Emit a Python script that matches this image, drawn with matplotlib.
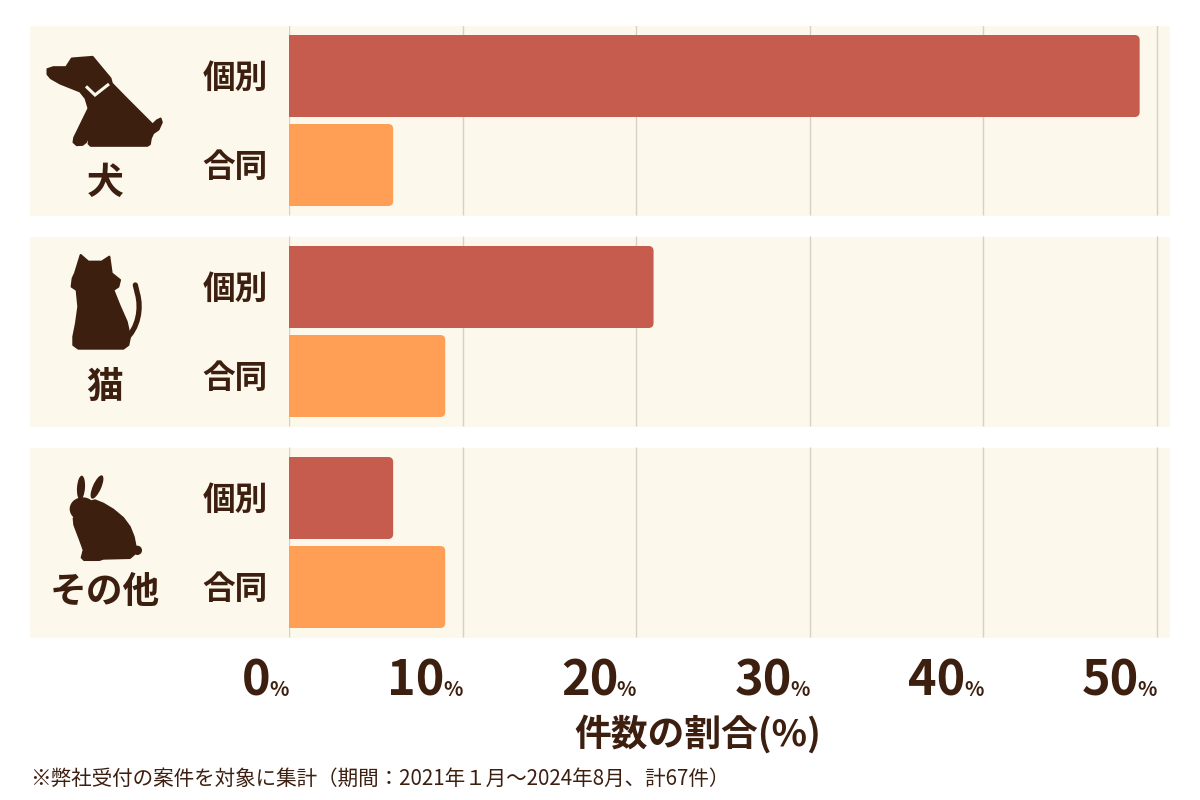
import matplotlib
matplotlib.use("Agg")
import matplotlib.pyplot as plt
from matplotlib.patches import Polygon, Ellipse, Rectangle, FancyBboxPatch, PathPatch
from matplotlib.path import Path
from matplotlib.transforms import blended_transform_factory, offset_copy

plt.rcParams['font.family'] = ['Noto Sans CJK JP', 'DejaVu Sans']

# ---------------- data ----------------
animals = ["犬", "猫", "その他"]
bar_types = ["個別", "合同"]
individual_pct = [49, 21, 6]
joint_pct = [6, 9, 9]
x_ticks = [0, 10, 20, 30, 40, 50]
x_label = "件数の割合(%)"
footnote = "※弊社受付の案件を対象に集計（期間：2021年１月～2024年8月、計67件）"

# ---------------- style ----------------
BROWN = "#3d1f10"
RED = "#c55c4d"
ORANGE = "#ff9f55"
PANEL = "#fdf8ec"
GRID = "#d6d0c5"

W, H = 1200, 800
fig = plt.figure(figsize=(12, 8), dpi=100)
fig.patch.set_facecolor("white")

# background axes in pixel coordinates
bg = fig.add_axes([0, 0, 1, 1], zorder=0)
bg.set_xlim(0, W)
bg.set_ylim(H, 0)
bg.axis("off")

# data axes
px_per_pct = 17.36
ax_left_px, ax_right_px = 289, 1170
ax_top_px, ax_bot_px = 26, 638
pitch_px = 211
ax = fig.add_axes([ax_left_px / W, 1 - ax_bot_px / H,
                   (ax_right_px - ax_left_px) / W, (ax_bot_px - ax_top_px) / H], zorder=2)
ax.patch.set_alpha(0)
ax.set_xlim(0, (ax_right_px - ax_left_px) / px_per_pct)
top_u = -(120.5 - ax_top_px) / pitch_px
bot_u = (ax_bot_px - 120.5) / pitch_px
ax.set_ylim(bot_u, top_u)
ax.axis("off")

n = len(animals)
panel_half = 95 / pitch_px
bar_h = 82 / pitch_px
off = 44.5 / pitch_px

# panels
for i in range(n):
    cy = 120.5 + pitch_px * i
    bg.add_patch(Rectangle((30, cy - 95), 1140, 190, facecolor=PANEL, edgecolor="none"))

# gridlines only within panels
for i in range(n):
    ax.vlines(x_ticks, i - panel_half, i + panel_half, colors=GRID, linewidth=1.0, zorder=1)

ypos_ind = [i - off for i in range(n)]
ypos_joint = [i + off for i in range(n)]
bars1 = ax.barh(ypos_ind, individual_pct, height=bar_h, color=RED)
bars2 = ax.barh(ypos_joint, joint_pct, height=bar_h, color=ORANGE)

# replace with rounded-corner bars
r_px = 5
aspect = (r_px / pitch_px) / (r_px / px_per_pct)
for bars in (bars1, bars2):
    for rect in bars:
        x, y, w, h = rect.get_x(), rect.get_y(), rect.get_width(), rect.get_height()
        rect.set_visible(False)
        p = FancyBboxPatch((x - 1, y), w + 1, h,
                           boxstyle=f"round,pad=0,rounding_size={r_px / px_per_pct}",
                           mutation_aspect=aspect, facecolor=rect.get_facecolor(),
                           edgecolor="none", zorder=3, clip_on=True)
        ax.add_patch(p)

# category labels
for i in range(n):
    for yy, lab in ((ypos_ind[i], bar_types[0]), (ypos_joint[i], bar_types[1])):
        ax.annotate(lab, xy=(0, yy), xycoords="data", xytext=(-21, -2),
                    textcoords="offset pixels", ha="right", va="center",
                    fontsize=23.5, fontweight="bold", color=BROWN, annotation_clip=False)

# x tick labels (number + small %)
trans = blended_transform_factory(ax.transData, fig.transFigure)
ybase = 1 - 696 / H
for t in x_ticks:
    ax.text(t, ybase, "%", transform=trans, ha="right", va="baseline",
            fontsize=14.5, fontweight="bold", color=BROWN, clip_on=False)
    ax.text(t, ybase, str(t), transform=offset_copy(trans, fig=fig, x=-18, y=0, units="dots"),
            ha="right", va="baseline", fontsize=35, fontweight="bold", color=BROWN, clip_on=False)

fig.text(698 / W, 1 - 734 / H, x_label, ha="center", va="center",
         fontsize=26.5, fontweight="bold", color=BROWN)
fig.text(30 / W, 1 - 779 / H, footnote, ha="left", va="center",
         fontsize=14.8, color=BROWN)

# animal labels
for lab, yy in zip(animals, (183, 387, 592)):
    bg.text(105, yy, lab, ha="center", va="center", fontsize=26.5, fontweight="bold", color=BROWN)

# ---------------- icons (decorative) ----------------
def conv(pts, ox, oy, s=3.0):
    return [(ox + px / s, oy + py / s) for px, py in pts]

# dog (sitting, facing left)
dog_z = [(22,72),(40,66),(78,66),(95,40),(158,35),(212,100),(216,115),(260,160),(338,238),
         (350,226),(362,220),(366,232),(356,254),(340,265),(333,280),(330,298),(322,303),
         (152,303),(145,296),(150,270),(164,244),(138,292),(128,300),(110,301),(100,292),
         (102,278),(145,190),(136,160),(120,140),(85,126),(60,116),(32,100),(22,88)]
bg.add_patch(Polygon(conv(dog_z, 40, 45), closed=True, facecolor=BROWN, edgecolor=BROWN,
                     linewidth=1.2, joinstyle="round"))
collar = conv([(138,124),(165,150),(207,117)], 40, 45)
bg.plot([p[0] for p in collar], [p[1] for p in collar], color=PANEL, lw=2.2,
        solid_capstyle="butt", solid_joinstyle="miter")

# cat (from behind)
cat_z = [(152,45),(175,65),(215,65),(238,50),(245,100),(270,120),(265,140),(250,150),
         (268,195),(290,245),(300,290),(295,315),(280,326),(145,326),(130,315),(130,290),
         (138,250),(145,200),(140,150),(125,140),(128,115),(135,100)]
bg.add_patch(Polygon(conv(cat_z, 30, 240), closed=True, facecolor=BROWN, edgecolor=BROWN,
                     linewidth=1.5, joinstyle="round"))
tail = conv([(285,300),(325,265),(335,205),(322,160),(316,135)], 30, 240)
tail_path = Path(tail, [Path.MOVETO, Path.CURVE4, Path.CURVE4, Path.CURVE4, Path.LINETO])
bg.add_patch(PathPatch(tail_path, facecolor="none", edgecolor=BROWN, lw=3.8, capstyle="round"))

# rabbit (facing left)
ox, oy = 60, 465
def zx(v): return ox + v / 3
def zy(v): return oy + v / 3
bg.add_patch(Ellipse((zx(63), zy(68)), 24/3, 72/3, angle=4, facecolor=BROWN))
bg.add_patch(Ellipse((zx(111), zy(66)), 25/3, 76/3, angle=24, facecolor=BROWN))
bg.add_patch(Ellipse((zx(68), zy(132)), 78/3, 70/3, facecolor=BROWN))
body_z = [(55,140),(80,112),(105,105),(130,115),(160,133),(190,158),(210,185),(222,215),
          (228,245),(224,268),(210,280),(130,282),(118,286),(72,286),(64,278),(70,255),
          (58,222),(42,180),(40,160)]
bg.add_patch(Polygon(conv(body_z, ox, oy), closed=True, facecolor=BROWN, edgecolor=BROWN,
                     linewidth=1.0, joinstyle="round"))
bg.add_patch(Ellipse((zx(232), zy(256)), 28/3, 28/3, facecolor=BROWN))

fig.savefig("out.png", dpi=100, facecolor="white")
